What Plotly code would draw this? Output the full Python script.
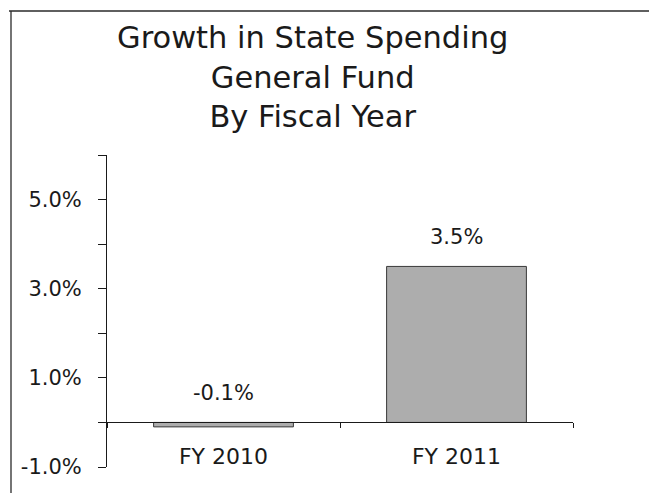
import plotly.graph_objects as go

# Data
fiscal_years = ["FY 2010", "FY 2011"]
growth_pct = [-0.1, 3.5]
bar_labels = ["-0.1%", "3.5%"]
y_tick_values = [-1, 0, 1, 2, 3, 4, 5, 6]
y_tick_labels = ["-1.0%", "", "1.0%", "", "3.0%", "", "5.0%", ""]
title_lines = ["Growth in State Spending", "General Fund", "By Fiscal Year"]

W, H = 649, 493
ML, MR, MT, MB = 107, 76, 155, 26
Y_MIN, Y_MAX = -1, 6
FONT = "DejaVu Sans"
INK = "#1a1a1a"


def px_to_paper_x(px):
    return (px - ML) / (W - ML - MR)


def px_to_paper_y(py):
    return (H - MB - py) / (H - MT - MB)


fig = go.Figure()
fig.add_trace(go.Bar(
    x=fiscal_years,
    y=growth_pct,
    width=0.6,
    marker=dict(color="#adadad", line=dict(color="#3a3a3a", width=1)),
    hoverinfo="skip",
    showlegend=False,
))

# value labels above each bar
for cat, val, lab in zip(fiscal_years, growth_pct, bar_labels):
    fig.add_annotation(
        x=cat, y=max(val, 0), text=lab, showarrow=False,
        yanchor="bottom", yshift=15,
        font=dict(family=FONT, size=21, color=INK),
    )

# three-line heading
fig.add_annotation(
    xref="paper", yref="paper",
    x=px_to_paper_x(312), y=px_to_paper_y(18),
    xanchor="center", yanchor="top",
    text="<br>".join(title_lines), showarrow=False, align="center",
    font=dict(family=FONT, size=30.5, color=INK),
)

# frame lines along top and left edges
frame = dict(color="#2a2a2a", width=1.3)
fig.add_shape(type="line", xref="paper", yref="paper",
              x0=px_to_paper_x(9), x1=px_to_paper_x(W),
              y0=px_to_paper_y(11), y1=px_to_paper_y(11), line=frame)
fig.add_shape(type="line", xref="paper", yref="paper",
              x0=px_to_paper_x(11), x1=px_to_paper_x(11),
              y0=px_to_paper_y(11), y1=px_to_paper_y(H), line=frame)

fig.update_layout(
    width=W, height=H,
    margin=dict(l=ML, r=MR, t=MT, b=MB),
    paper_bgcolor="white",
    plot_bgcolor="white",
    font=dict(family=FONT, color=INK),
    xaxis=dict(
        range=[-0.5, 1.5],
        anchor="free",
        position=(0 - Y_MIN) / (Y_MAX - Y_MIN),
        showline=True, linecolor=INK, linewidth=1,
        ticks="outside", tickson="boundaries", ticklen=5,
        tickcolor=INK,
        showgrid=False, zeroline=False,
        ticklabelstandoff=14,
        tickfont=dict(family=FONT, size=22, color=INK),
    ),
    yaxis=dict(
        range=[Y_MIN, Y_MAX],
        tickvals=y_tick_values, ticktext=y_tick_labels,
        showline=True, linecolor=INK, linewidth=1,
        ticks="outside", ticklen=8, tickcolor=INK,
        showgrid=False, zeroline=False,
        ticklabelstandoff=12,
        tickfont=dict(family=FONT, size=21, color=INK),
    ),
)

fig.write_html("out.html")
